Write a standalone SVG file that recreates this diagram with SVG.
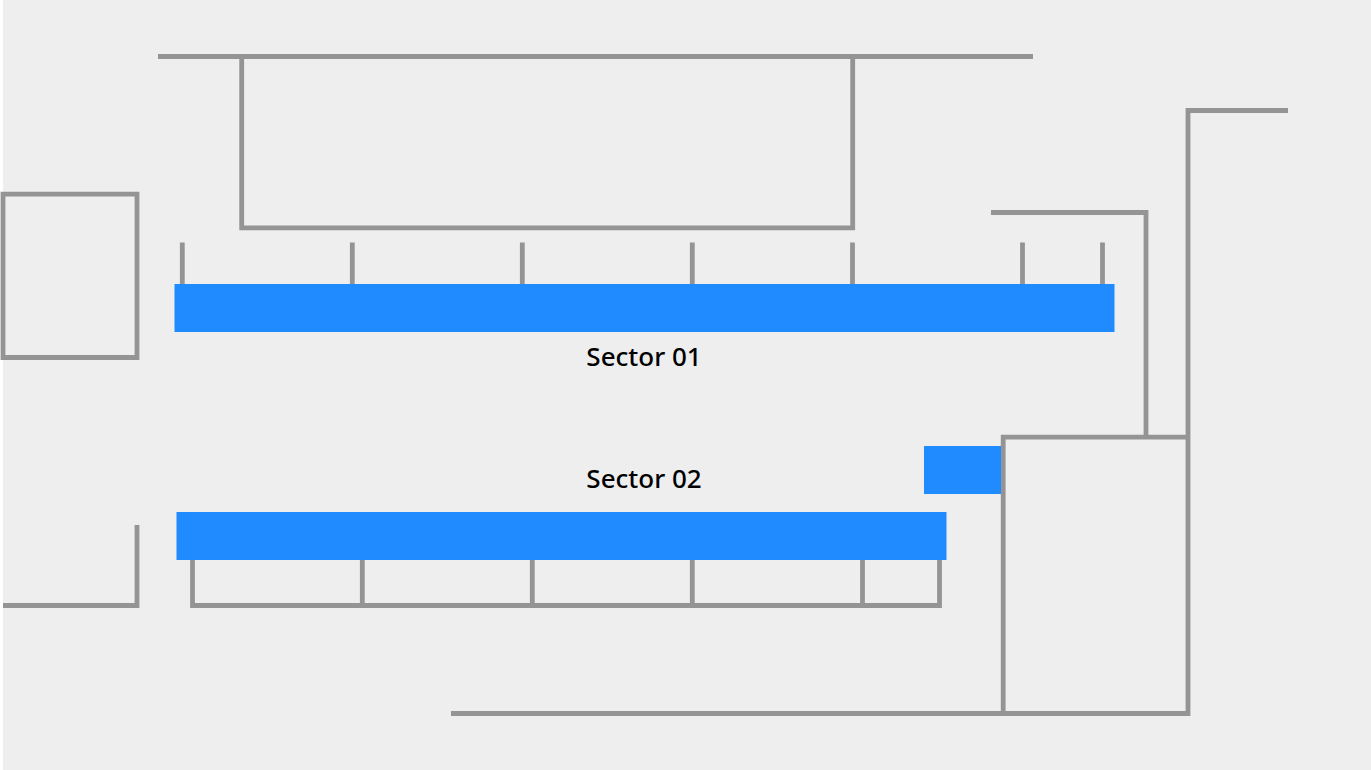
<svg xmlns="http://www.w3.org/2000/svg" width="1371" height="770" viewBox="0 0 1371 770">
<style>
.ln{fill:none;stroke:#949494;stroke-width:4.8;stroke-linecap:butt;stroke-linejoin:miter}
.bar{fill:#208bff}
.lb{font-family:"Noto Sans","Liberation Sans",sans-serif;font-weight:500;font-size:26px;fill:#000;text-anchor:middle}
</style>
<rect x="0" y="0" width="1371" height="770" fill="#fff"/>
<rect x="3" y="0" width="1368" height="770" fill="#eee"/>
<g id="connectors">
<path class="ln" d="M158 56.500H1033"/>
<path class="ln" d="M241.700 56.500V227.800H852.700V56.500"/>
<path class="ln" d="M3 194.200H137V357.500H3Z"/>
<path class="ln" d="M3 605.500H137V525"/>
<path class="ln" d="M182.300 242.500V284M352.300 242.500V284M522.300 242.500V284M692.300 242.500V284M852.500 242.500V284M1022.500 242.500V284M1102.500 242.500V284"/>
<path class="ln" d="M192.500 560V605.500H939.500V560"/>
<path class="ln" d="M362.300 560V605.500M532.300 560V605.500M692.300 560V605.500M862.500 560V605.500"/>
<path class="ln" d="M991 212.500H1146V437"/>
<path class="ln" d="M1288 110.500H1188V713.500H451"/>
<path class="ln" d="M1188 437.200H1003.200V713.500"/>
</g>
<g id="sector-01">
<rect class="bar" x="174.500" y="284" width="940" height="48"/>
<text class="lb" x="644" y="366">Sector 01</text>
</g>
<g id="sector-02">
<rect class="bar" x="176.500" y="512" width="770" height="48"/>
<text class="lb" x="644" y="488">Sector 02</text>
</g>
<g id="sector-stub">
<rect class="bar" x="924" y="446" width="77" height="48"/>
</g>
</svg>
